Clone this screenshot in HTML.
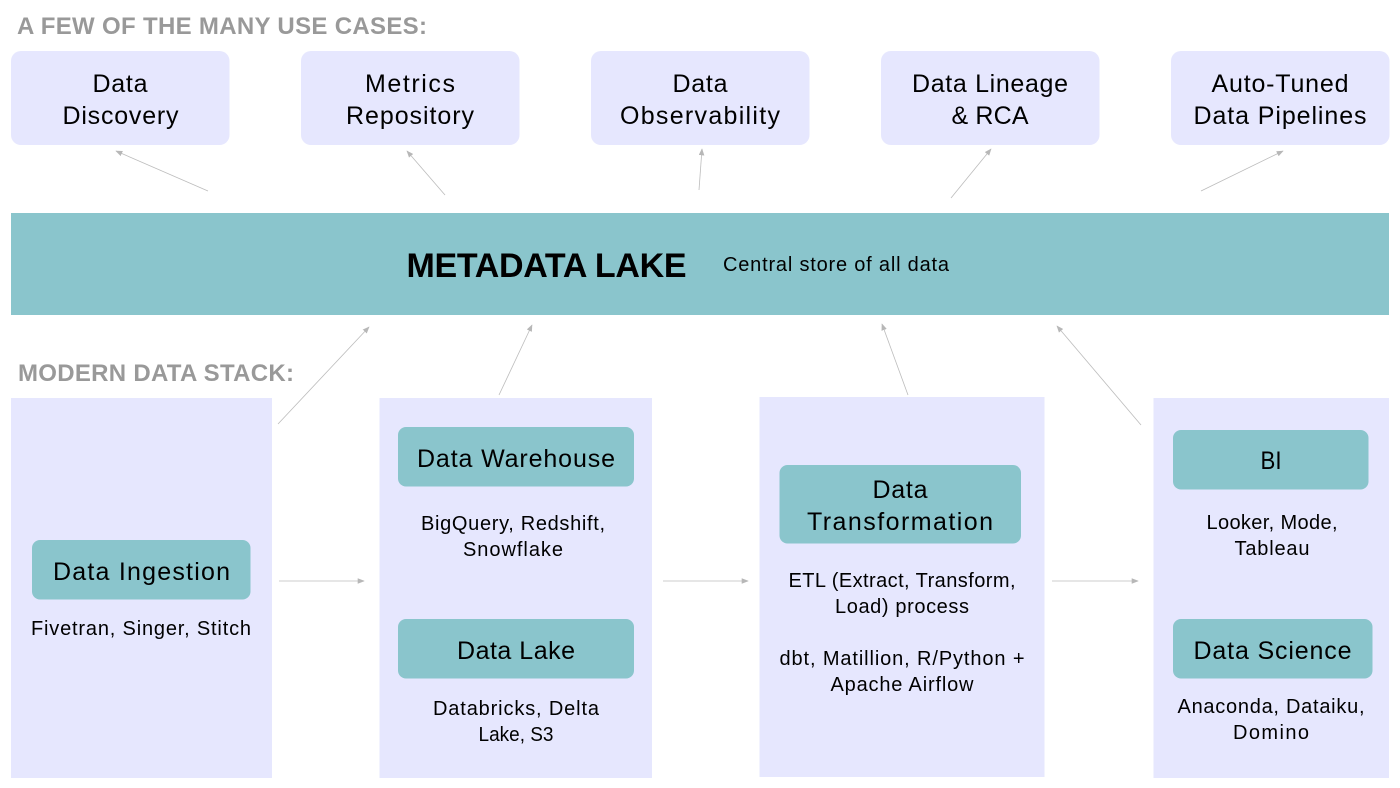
<!DOCTYPE html>
<html><head><meta charset="utf-8"><style>
html,body{margin:0;padding:0;background:#fff}
svg{display:block}
text{font-family:"Liberation Sans",sans-serif;fill:#000;text-anchor:middle}
.h{font-size:24px;font-weight:bold;fill:#999;text-anchor:start}
.t{font-size:25px}
.s{font-size:20px}
.a{stroke:#bcbcbc;stroke-width:.8;fill:none;marker-end:url(#m)}
</style></head><body>
<svg width="1400" height="788" viewBox="0 0 1400 788" xmlns="http://www.w3.org/2000/svg">
<defs><marker id="m" viewBox="0 0 10 8" refX="9" refY="4" markerWidth="7" markerHeight="5.6" markerUnits="userSpaceOnUse" orient="auto"><path d="M0 0L10 4L0 8Z" fill="#b7b7b7"/></marker></defs>
<rect width="1400" height="788" fill="#fff"/>
<text class="h" x="17" y="34" textLength="410">A FEW OF THE MANY USE CASES:</text>
<g fill="#e6e7fe">
<rect x="11" y="51" width="218.500" height="94" rx="10"/>
<rect x="301" y="51" width="218.500" height="94" rx="10"/>
<rect x="591" y="51" width="218.500" height="94" rx="10"/>
<rect x="881" y="51" width="218.500" height="94" rx="10"/>
<rect x="1171" y="51" width="218.500" height="94" rx="10"/>
<rect x="11" y="398" width="261" height="380"/>
<rect x="379.500" y="398" width="272.500" height="380"/>
<rect x="759.500" y="397" width="285" height="380"/>
<rect x="1153.500" y="398" width="235.500" height="380"/>
</g>
<g>
<text class="t" x="120" y="92" textLength="55">Data</text>
<text class="t" x="120.500" y="124" textLength="116">Discovery</text>
<text class="t" x="410" y="92" textLength="90">Metrics</text>
<text class="t" x="410" y="124" textLength="128">Repository</text>
<text class="t" x="700" y="92" textLength="55">Data</text>
<text class="t" x="700" y="124" textLength="160">Observability</text>
<text class="t" x="990" y="92" textLength="156">Data Lineage</text>
<text class="t" x="990" y="124" textLength="77">&amp; RCA</text>
<text class="t" x="1280" y="92" textLength="137">Auto-Tuned</text>
<text class="t" x="1280" y="124" textLength="173">Data Pipelines</text>
</g>
<g>
<path class="a" d="M208 191L116 151"/>
<path class="a" d="M445 195L407 151"/>
<path class="a" d="M699 190L702 149"/>
<path class="a" d="M951 198L991 149"/>
<path class="a" d="M1201 191L1283 151"/>
<path class="a" d="M278 424L369 327"/>
<path class="a" d="M499 395L532 325"/>
<path class="a" d="M908 395L882 324"/>
<path class="a" d="M1141 425L1057 326"/>
<path class="a" d="M279 581H364"/>
<path class="a" d="M663 581H748"/>
<path class="a" d="M1052 581H1138"/>
</g>
<rect x="11" y="213" width="1378" height="102" fill="#8ac5cc"/>
<text x="546.500" y="277" font-size="34" font-weight="bold" textLength="280">METADATA LAKE</text>
<text class="s" x="836" y="271" textLength="226">Central store of all data</text>
<text class="h" x="18" y="381" textLength="276">MODERN DATA STACK:</text>
<g fill="#8ac5cc">
<rect x="32" y="540" width="218.500" height="59.500" rx="8"/>
<rect x="398" y="427" width="236" height="59.500" rx="8"/>
<rect x="398" y="619" width="236" height="59.500" rx="8"/>
<rect x="779.500" y="465" width="241.500" height="78.500" rx="8"/>
<rect x="1173" y="430" width="195.500" height="59.500" rx="8"/>
<rect x="1173" y="619" width="199.500" height="59.500" rx="8"/>
</g>
<text class="t" x="141.500" y="580" textLength="177">Data Ingestion</text>
<text class="t" x="516" y="467" textLength="198">Data Warehouse</text>
<text class="t" x="516" y="659" textLength="118">Data Lake</text>
<text class="t" x="900" y="498" textLength="55">Data</text>
<text class="t" x="900" y="530" textLength="186">Transformation</text>
<text class="t" x="1271" y="469" textLength="21" lengthAdjust="spacingAndGlyphs">BI</text>
<text class="t" x="1272.500" y="659" textLength="158">Data Science</text>
<text class="s" x="141" y="635" textLength="220">Fivetran, Singer, Stitch</text>
<text class="s" x="513" y="530" textLength="184">BigQuery, Redshift,</text>
<text class="s" x="513" y="556" textLength="100">Snowflake</text>
<text class="s" x="516" y="715" textLength="166">Databricks, Delta</text>
<text class="s" x="516" y="741" textLength="75" lengthAdjust="spacingAndGlyphs">Lake, S3</text>
<text class="s" x="902" y="587" textLength="227">ETL (Extract, Transform,</text>
<text class="s" x="902" y="613" textLength="134">Load) process</text>
<text class="s" x="902" y="665" textLength="245">dbt, Matillion, R/Python +</text>
<text class="s" x="902" y="691" textLength="143">Apache Airflow</text>
<text class="s" x="1272" y="529" textLength="131">Looker, Mode,</text>
<text class="s" x="1272" y="555" textLength="75">Tableau</text>
<text class="s" x="1271" y="713" textLength="187">Anaconda, Dataiku,</text>
<text class="s" x="1271" y="739" textLength="76">Domino</text>
</svg>
</body></html>
